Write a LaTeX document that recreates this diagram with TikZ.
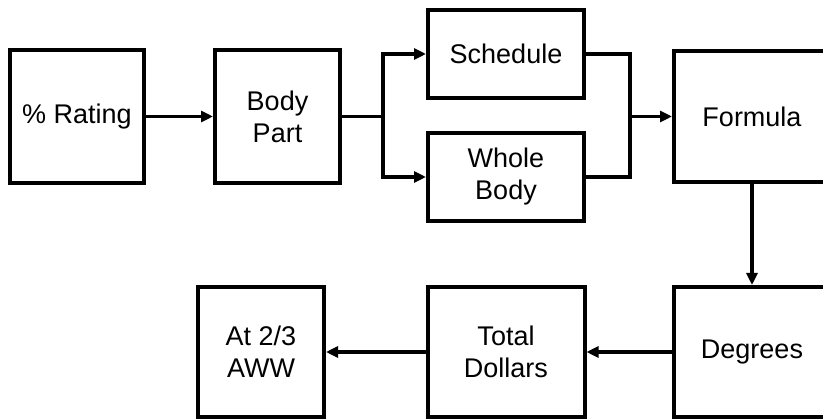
\documentclass[tikz,border=0pt]{standalone}
\usepackage{fontspec}
\setmainfont{Liberation Sans}
\usepackage{tikz}
\usetikzlibrary{arrows.meta,positioning,calc}

\begin{document}
\begin{tikzpicture}[
  x=1pt, y=-1pt,
  block/.style={
    rectangle, draw=black, line width=4pt,
    align=center, inner sep=0pt,
    font=\fontsize{27}{32}\selectfont
  },
  arrow/.style={
    -{Triangle[length=12pt,width=11pt]}, line width=3.5pt, black
  },
  link/.style={
    line width=3.5pt, line join=miter, black
  }
]
\useasboundingbox (0,0) rectangle (823,419);
\clip (0,0) rectangle (823,419);

%% Top row
\node[block, minimum width=134pt, minimum height=133pt] (rating) at (77,116.5) {\% Rating};
\node[block, minimum width=125pt, minimum height=133pt] (part) at (277.5,116.5) {Body\\Part};
\node[block, minimum width=156pt, minimum height=88pt] (sched) at (506,54) {Schedule};
\node[block, minimum width=156pt, minimum height=88pt] (whole) at (506,177) {Whole\\Body};
\node[block, minimum width=156pt, minimum height=131pt] (formula) at (752,116.5) {Formula};

%% Bottom row
\node[block, minimum width=156pt, minimum height=130pt] (degrees) at (752,352) {Degrees};
\node[block, minimum width=157pt, minimum height=130pt] (total) at (506,352) {Total\\Dollars};
\node[block, minimum width=126pt, minimum height=130pt] (aww) at (261,352) {At 2/3\\AWW};

%% Branch points
\coordinate (split) at (383,116.5);
\coordinate (join) at (630,116.5);

%% Arrows
\draw[arrow] (rating) -- (part);
\draw[link] (part.east) -- (split);
\draw[arrow] (split) |- (sched.west);
\draw[arrow] (split) |- (whole.west);
\draw[link] (sched.east) -| (join) |- (whole.east);
\draw[arrow] (join) -- (formula.west);
\draw[arrow] (formula) -- (degrees);
\draw[arrow] (degrees) -- (total);
\draw[arrow] (total) -- (aww);

\end{tikzpicture}
\end{document}
